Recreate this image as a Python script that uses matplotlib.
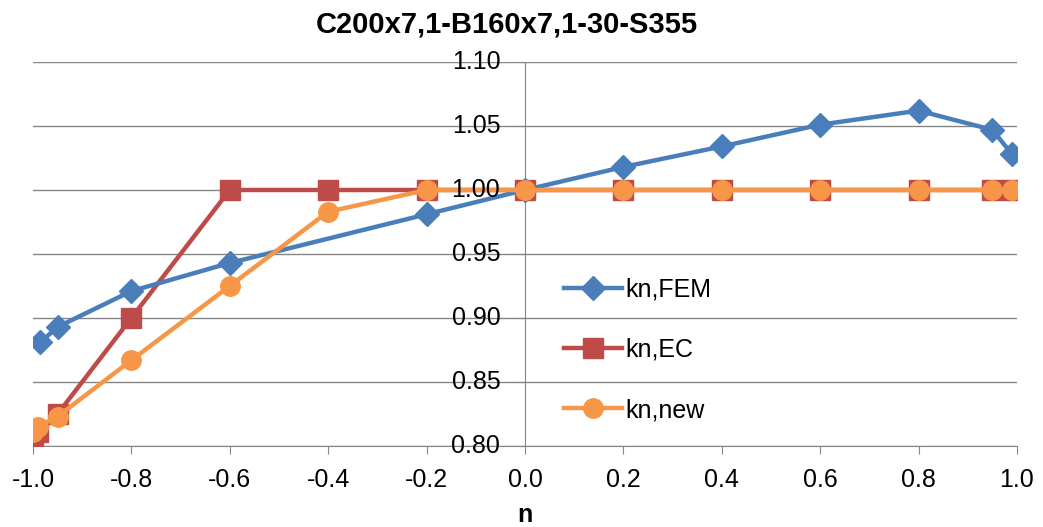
import numpy as np
import matplotlib.pyplot as plt

plt.rcParams['font.family'] = ['Liberation Sans', 'DejaVu Sans']

# data
n_fem = [-0.985, -0.95, -0.8, -0.6, -0.2, 0.0, 0.2, 0.4, 0.6, 0.8, 0.95, 0.99]
kn_fem = [0.881, 0.893, 0.921, 0.943, 0.981, 1.000, 1.018, 1.034, 1.051, 1.062, 1.047, 1.028]

n_ec = [-1.0, -0.99, -0.95, -0.8, -0.6, -0.4, -0.2, 0.0, 0.2, 0.4, 0.6, 0.8, 0.95, 0.99]
kn_ec = [0.808, 0.811, 0.825, 0.900, 1.000, 1.000, 1.000, 1.000, 1.000, 1.000, 1.000, 1.000, 1.000, 1.000]

n_new = [-1.0, -0.99, -0.95, -0.8, -0.6, -0.4, -0.2, 0.0, 0.2, 0.4, 0.6, 0.8, 0.95, 0.99]
kn_new = [0.811, 0.815, 0.823, 0.867, 0.925, 0.983, 1.000, 1.000, 1.000, 1.000, 1.000, 1.000, 1.000, 1.000]

x_ticks = [-1.0, -0.8, -0.6, -0.4, -0.2, 0.0, 0.2, 0.4, 0.6, 0.8, 1.0]
y_ticks = [0.80, 0.85, 0.90, 0.95, 1.00, 1.05, 1.10]

fig = plt.figure(figsize=(10.43, 5.27), dpi=100)
ax = fig.add_axes([0.0316, 0.1537, 0.9434, 0.7287])

ax.plot(n_fem, kn_fem, color='#4A7EBB', lw=3.2, marker='D', ms=12, label='kn,FEM', zorder=5)
ax.plot(n_ec, kn_ec, color='#BE4B48', lw=3.2, marker='s', ms=15, label='kn,EC', zorder=4)
ax.plot(n_new, kn_new, color='#F79646', lw=3.2, marker='o', ms=14, label='kn,new', zorder=6)

ax.set_xlim(-1.0, 1.0)
ax.set_ylim(0.80, 1.10)
ax.set_xticks(x_ticks)
ax.set_xticklabels(['%.1f' % abs(v) if v == 0 else '%.1f' % v for v in x_ticks])
ax.set_yticks(y_ticks)
ax.set_yticklabels([])
# y labels sit on top of the lines, as in the reference
for v in y_ticks:
    ax.text(-0.05, v, '%.2f' % v, ha='right', va='center', fontsize=18, zorder=10)

ax.grid(axis='y', color='#868686', lw=1)
ax.set_axisbelow(True)
for s in ['top', 'right']:
    ax.spines[s].set_visible(False)
ax.spines['left'].set_position(('data', 0))
ax.spines['left'].set_color('#868686')
ax.spines['bottom'].set_color('#868686')
ax.tick_params(colors='#868686', labelcolor='black', labelsize=18, length=6)
ax.tick_params(axis='x', pad=10)

ax.set_title('C200x7,1-B160x7,1-30-S355', fontsize=21, fontweight='bold', pad=21, x=0.482)
ax.set_xlabel('n', fontsize=18, fontweight='bold', labelpad=8)

ax.legend(loc='center left', bbox_to_anchor=(0.517, 0.25), frameon=False,
          fontsize=18, labelspacing=1.45, handlelength=2.3, handletextpad=0.15)

plt.savefig('out.png')
